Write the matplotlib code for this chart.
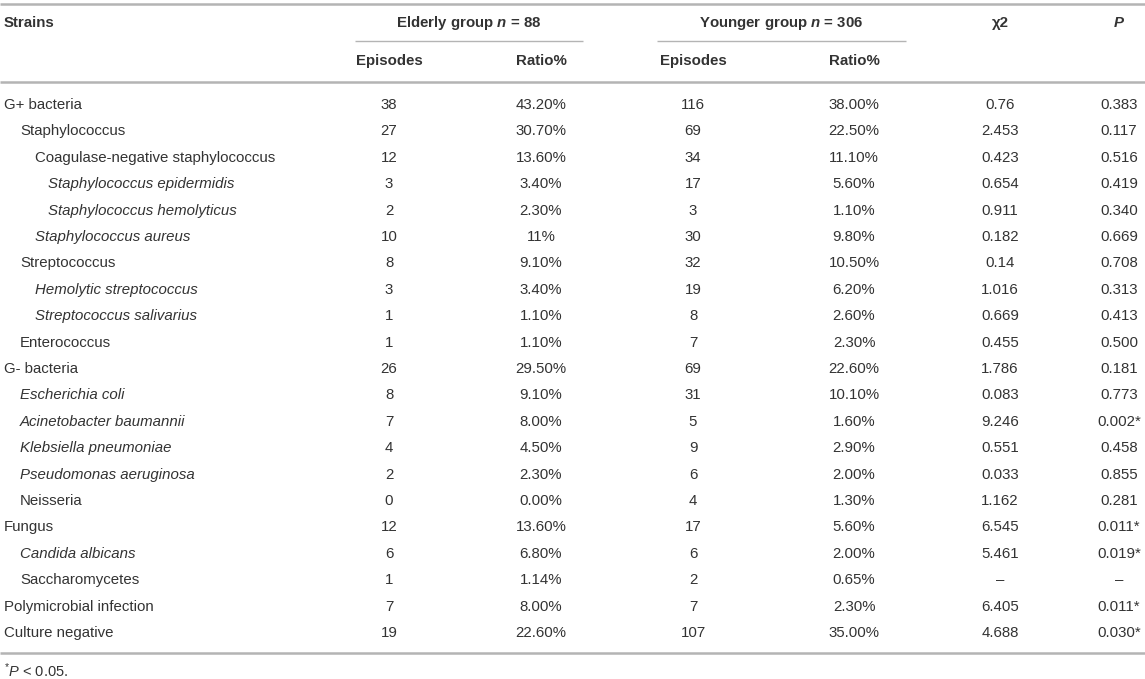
import matplotlib
matplotlib.use("Agg")
import matplotlib.pyplot as plt

plt.rcParams['font.family'] = ['Liberation Sans', 'DejaVu Sans']
plt.rcParams['mathtext.fontset'] = 'custom'
plt.rcParams['mathtext.rm'] = 'Liberation Sans'
plt.rcParams['mathtext.it'] = 'Liberation Sans:italic'
plt.rcParams['mathtext.bf'] = 'Liberation Sans:bold'
plt.rcParams['mathtext.bfit'] = 'Liberation Sans:italic:bold'

# ---------------- data ----------------
strains = ["G+ bacteria", "Staphylococcus", "Coagulase-negative staphylococcus",
           "Staphylococcus epidermidis", "Staphylococcus hemolyticus", "Staphylococcus aureus",
           "Streptococcus", "Hemolytic streptococcus", "Streptococcus salivarius", "Enterococcus",
           "G- bacteria", "Escherichia coli", "Acinetobacter baumannii", "Klebsiella pneumoniae",
           "Pseudomonas aeruginosa", "Neisseria", "Fungus", "Candida albicans", "Saccharomycetes",
           "Polymicrobial infection", "Culture negative"]
levels = [0, 1, 2, 3, 3, 2, 1, 2, 2, 1, 0, 1, 1, 1, 1, 1, 0, 1, 1, 0, 0]
italic = [False, False, False, True, True, True, False, True, True, False,
          False, True, True, True, True, False, False, True, False, False, False]
elderly_episodes = ["38", "27", "12", "3", "2", "10", "8", "3", "1", "1",
                    "26", "8", "7", "4", "2", "0", "12", "6", "1", "7", "19"]
elderly_ratio = ["43.20%", "30.70%", "13.60%", "3.40%", "2.30%", "11%", "9.10%", "3.40%", "1.10%", "1.10%",
                 "29.50%", "9.10%", "8.00%", "4.50%", "2.30%", "0.00%", "13.60%", "6.80%", "1.14%",
                 "8.00%", "22.60%"]
younger_episodes = ["116", "69", "34", "17", "3", "30", "32", "19", "8", "7",
                    "69", "31", "5", "9", "6", "4", "17", "6", "2", "7", "107"]
younger_ratio = ["38.00%", "22.50%", "11.10%", "5.60%", "1.10%", "9.80%", "10.50%", "6.20%", "2.60%", "2.30%",
                 "22.60%", "10.10%", "1.60%", "2.90%", "2.00%", "1.30%", "5.60%", "2.00%", "0.65%",
                 "2.30%", "35.00%"]
chi2 = ["0.76", "2.453", "0.423", "0.654", "0.911", "0.182", "0.14", "1.016", "0.669", "0.455",
        "1.786", "0.083", "9.246", "0.551", "0.033", "1.162", "6.545", "5.461", "–", "6.405", "4.688"]
pvals = ["0.383", "0.117", "0.516", "0.419", "0.340", "0.669", "0.708", "0.313", "0.413", "0.500",
         "0.181", "0.773", "0.002*", "0.458", "0.855", "0.281", "0.011*", "0.019*", "–", "0.011*", "0.030*"]

# ---------------- layout ----------------
W, H = 1145, 679
fig = plt.figure(figsize=(W / 100, H / 100), dpi=100)
ax = fig.add_axes([0, 0, 1, 1])
ax.set_xlim(0, W)
ax.set_ylim(H, 0)
ax.axis('off')

txt = '#333333'
line_c = '#b4b4b4'
fs = 10.8

x_name = 4
indent_x = [4, 20, 35, 48]
x_cols = [389, 541, 693, 854, 1000, 1119]

# rules
ax.plot([0, W], [4, 4], color=line_c, lw=1.8, solid_capstyle='butt')
ax.plot([0, W], [82, 82], color=line_c, lw=1.8, solid_capstyle='butt')
ax.plot([0, W], [653, 653], color=line_c, lw=1.8, solid_capstyle='butt')
ax.plot([355, 583], [41, 41], color=line_c, lw=1.0, solid_capstyle='butt')
ax.plot([657, 906], [41, 41], color=line_c, lw=1.0, solid_capstyle='butt')

# header
y_h1, y_h2 = 23, 61
ax.text(x_name, y_h1, "Strains", fontsize=fs, fontweight='bold', color=txt, va='center', ha='left')
ax.text(469, y_h1, r"Elderly group $\mathbfit{n}$ = 88", fontsize=fs, fontweight='bold', color=txt,
        va='center', ha='center')
ax.text(781, y_h1, r"Younger group $\mathbfit{n}$ = 306", fontsize=fs, fontweight='bold', color=txt,
        va='center', ha='center')
ax.text(x_cols[4], y_h1, "χ2", fontsize=fs, fontweight='bold', color=txt, va='center', ha='center')
ax.text(x_cols[5], y_h1, "P", fontsize=fs, fontweight='bold', style='italic', color=txt,
        va='center', ha='center')
for xc, lab in zip(x_cols[:4], ["Episodes", "Ratio%", "Episodes", "Ratio%"]):
    ax.text(xc, y_h2, lab, fontsize=fs, fontweight='bold', color=txt, va='center', ha='center')

# body
y0, pitch = 105, 26.4
for i, name in enumerate(strains):
    y = y0 + i * pitch
    ax.text(indent_x[levels[i]], y, name, fontsize=fs, color=txt, va='center', ha='left',
            style='italic' if italic[i] else 'normal')
    cols = [elderly_episodes[i], elderly_ratio[i], younger_episodes[i], younger_ratio[i], chi2[i], pvals[i]]
    for xc, v in zip(x_cols, cols):
        ax.text(xc, y, v, fontsize=fs, color=txt, va='center', ha='center')

# footnote
ax.text(x_name, 671, r"$^{*}\mathit{P}$ < 0.05.", fontsize=10.5, color=txt, va='center', ha='left')

fig.savefig("out.png", dpi=100)
